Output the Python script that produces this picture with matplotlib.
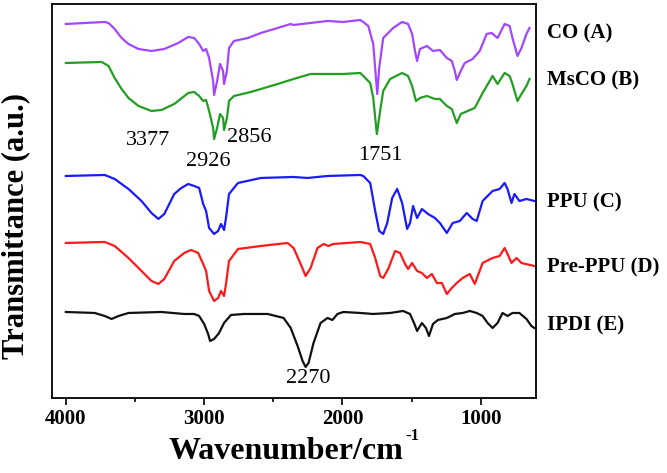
import matplotlib
matplotlib.use("Agg")
import matplotlib.pyplot as plt
from matplotlib.ticker import MultipleLocator

plt.rcParams['font.family'] = ['Liberation Serif', 'DejaVu Serif']

# FTIR spectra, transmittance in arbitrary units (curves stacked)
wn_a = [4000, 3719, 3691, 3647, 3597, 3547, 3475, 3381, 3288, 3187, 3115, 3072, 3036, 3007,
        2986, 2964, 2935, 2928, 2906, 2885, 2863, 2856, 2835, 2820, 2784, 2683, 2590, 2468,
        2374, 2353, 2230, 2108, 1993, 1871, 1849, 1813, 1777, 1748, 1734, 1705, 1669, 1633,
        1568, 1525, 1496, 1475, 1460, 1439, 1389, 1345, 1295, 1245, 1209, 1187, 1173, 1144,
        1115, 1058, 1007, 957, 921, 878, 827, 791, 770, 734, 705, 669, 647]
t_a = [377, 379, 378, 372, 363, 357, 352, 350, 352, 358, 364, 363, 357, 350,
       352, 343, 320, 306, 320, 337, 330, 317, 330, 353, 360, 363, 368, 373,
       377, 376, 378, 380, 379, 381, 379, 375, 357, 307, 333, 363, 368, 373,
       379, 377, 367, 350, 340, 352, 355, 350, 351, 343, 340, 330, 321, 330,
       338, 342, 350, 367, 368, 363, 377, 375, 363, 345, 353, 367, 373]

wn_b = [4000, 3741, 3691, 3647, 3597, 3547, 3475, 3381, 3309, 3216, 3115, 3072, 3036, 3007,
        2986, 2964, 2935, 2928, 2906, 2885, 2863, 2856, 2835, 2820, 2784, 2662, 2468, 2353,
        2230, 2108, 1993, 1871, 1849, 1799, 1777, 1751, 1727, 1705, 1655, 1568, 1525, 1496,
        1468, 1439, 1389, 1331, 1295, 1245, 1209, 1173, 1144, 1094, 1043, 986, 914, 878,
        827, 791, 770, 734, 705, 669, 647]
t_b = [338, 339, 335, 323, 312, 303, 295, 290, 291, 297, 308, 309, 305, 300,
       301, 290, 273, 262, 273, 287, 283, 271, 283, 300, 305, 309, 317, 322,
       327, 327, 327, 328, 325, 318, 303, 267, 290, 310, 322, 328, 325, 315,
       300, 303, 305, 302, 302, 295, 292, 278, 287, 290, 293, 308, 325, 317,
       328, 325, 317, 300, 307, 315, 322]

wn_c = [4000, 3719, 3647, 3547, 3453, 3381, 3331, 3288, 3216, 3165, 3115, 3072, 3036, 3007,
        2986, 2964, 2928, 2899, 2878, 2856, 2842, 2820, 2755, 2590, 2353, 2252, 2108, 1871,
        1849, 1799, 1763, 1734, 1705, 1676, 1640, 1604, 1568, 1532, 1511, 1489, 1460, 1425,
        1381, 1331, 1295, 1245, 1202, 1151, 1101, 1058, 1029, 986, 914, 863, 827, 806,
        777, 756, 720, 669, 612]
t_c = [225, 226, 222, 212, 200, 188, 182, 187, 207, 213, 217, 215, 213, 197,
       190, 173, 167, 170, 177, 171, 183, 207, 218, 223, 224, 223, 225, 226,
       225, 218, 190, 170, 167, 178, 203, 212, 198, 172, 178, 195, 183, 192,
       187, 183, 178, 168, 178, 180, 188, 182, 180, 200, 210, 212, 218, 212,
       198, 207, 200, 202, 200]

wn_d = [4000, 3719, 3647, 3547, 3453, 3381, 3331, 3288, 3216, 3144, 3094, 3043, 3007, 2986,
        2964, 2928, 2899, 2878, 2856, 2842, 2820, 2755, 2590, 2396, 2353, 2302, 2266, 2230,
        2180, 2137, 2101, 2065, 1871, 1799, 1763, 1727, 1705, 1669, 1619, 1583, 1547, 1525,
        1496, 1460, 1425, 1389, 1353, 1317, 1281, 1245, 1209, 1173, 1130, 1079, 1043, 986,
        914, 863, 827, 806, 777, 741, 705, 612]
t_d = [158, 159, 155, 143, 130, 120, 117, 122, 140, 148, 151, 148, 137, 130,
       110, 100, 103, 110, 105, 117, 140, 152, 155, 158, 153, 137, 125, 133,
       153, 157, 155, 157, 159, 157, 143, 125, 123, 132, 150, 148, 137, 132,
       138, 130, 128, 123, 127, 118, 118, 107, 113, 118, 123, 127, 117, 138,
       143, 145, 153, 147, 138, 143, 138, 135]

wn_e = [4000, 3791, 3719, 3669, 3619, 3547, 3309, 3144, 3072, 3036, 3000, 2971, 2957, 2928,
        2892, 2856, 2806, 2712, 2540, 2425, 2374, 2324, 2288, 2266, 2245, 2209, 2158, 2108,
        2072, 2036, 1993, 1871, 1777, 1655, 1561, 1511, 1482, 1460, 1425, 1396, 1374, 1345,
        1309, 1245, 1187, 1130, 1079, 1029, 986, 950, 914, 878, 842, 806, 770, 720,
        669, 633, 612]
t_e = [89, 88, 85, 82, 85, 88, 89, 87, 87, 85, 77, 67, 60, 62,
       68, 78, 86, 87, 87, 83, 73, 55, 40, 34, 38, 58, 78, 83,
       81, 87, 89, 88, 87, 88, 90, 87, 78, 70, 78, 73, 65, 77,
       81, 83, 87, 88, 90, 88, 85, 78, 73, 78, 88, 85, 88, 88,
       82, 75, 73]

names = ["CO (A)", "MsCO (B)", "PPU (C)", "Pre-PPU (D)", "IPDI (E)"]
colors = ["#a346ff", "#229e22", "#1a1aff", "#ff1a1a", "#111111"]
label_y = [33, 80, 202, 267, 325]  # pixel rows of right-hand labels

peaks = ["3377", "2926", "2856", "1751", "2270"]
peak_x = [3403, 2971, 2676, 1727, 2245]
peak_y = [260, 239, 263, 245, 22]

W, H = 667, 473
fig = plt.figure(figsize=(W / 100, H / 100), dpi=100)
ax = fig.add_axes([0.078, 0.1586, 0.7256, 0.833])

series = [(wn_a, t_a), (wn_b, t_b), (wn_c, t_c), (wn_d, t_d), (wn_e, t_e)]
for (x, y), c in zip(series, colors):
    ax.plot(x, y, color=c, lw=1.6, solid_joinstyle='round')

for txt, x, y in zip(peaks, peak_x, peak_y):
    ax.text(x, y, txt, fontsize=16, ha='center', va='center')

for name, yy in zip(names, label_y):
    fig.text(547 / W, 1 - yy / H, name, fontsize=15, fontweight='bold',
             ha='left', va='center')

ax.set_xlim(4100, 600)
ax.set_ylim(3, 397)
ax.set_yticks([])
ax.xaxis.set_major_locator(MultipleLocator(1000))
ax.xaxis.set_minor_locator(MultipleLocator(500))
ax.tick_params(axis='x', which='major', direction='out', length=5, width=1.2,
               labelsize=15, pad=3)
ax.tick_params(axis='x', which='minor', direction='out', length=3, width=1.2)
for lab in ax.get_xticklabels():
    lab.set_fontweight('bold')
for s in ax.spines.values():
    s.set_linewidth(1.3)

ax.set_xlabel("Wavenumber/cm", fontsize=23, fontweight='bold')
ax.xaxis.set_label_coords(0.483, -0.098)
ax.set_ylabel("Transmittance (a.u.)", fontsize=22, fontweight='bold')
ax.yaxis.set_label_coords(-0.046, 0.437)

# small "-1" superscript after the x label
fig.canvas.draw()
bb = ax.xaxis.label.get_window_extent()
fig.text((bb.x1 + 2) / W, (bb.y1 + 9) / H, "-1", fontsize=12, fontweight='bold',
         ha='left', va='top')

fig.savefig("out.png", dpi=100)
